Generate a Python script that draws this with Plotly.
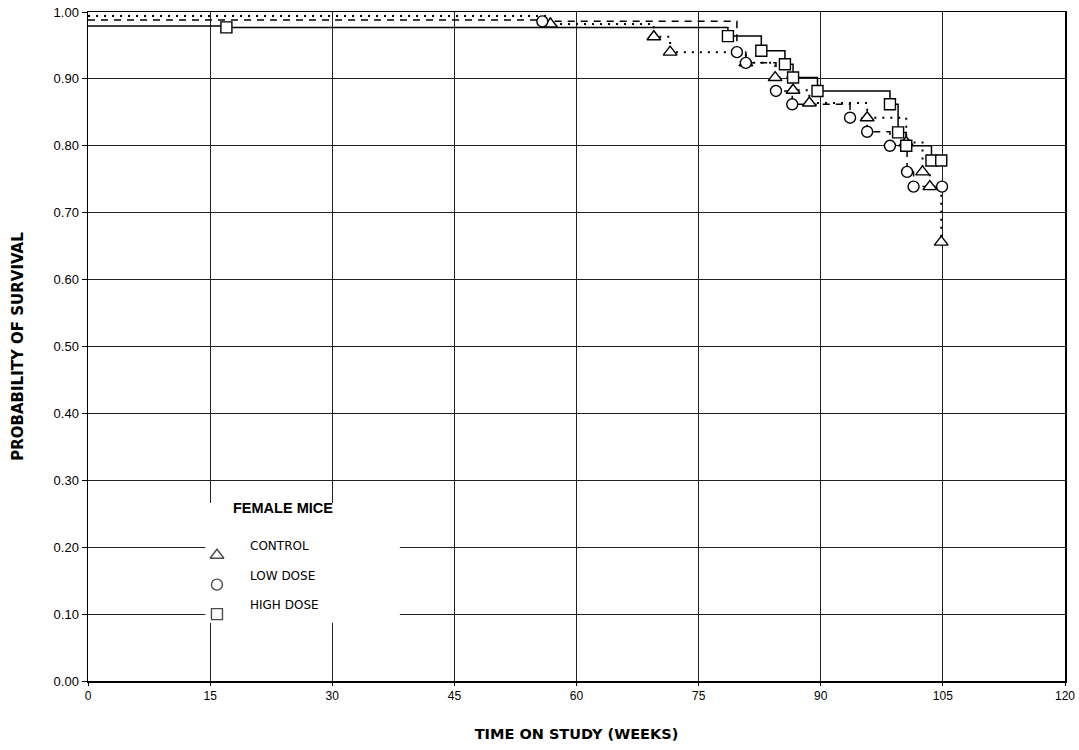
import plotly.graph_objects as go

# ---- data (weeks, probability of survival) ----
weeks_control = [0, 56.8, 69.5, 71.5, 80.8, 84.4, 86.6, 88.6, 95.7, 100.5, 102.5, 103.4, 104.8]
surv_control = [0.994, 0.982, 0.963, 0.940, 0.924, 0.902, 0.883, 0.864, 0.842, 0.805, 0.761, 0.739, 0.656]

weeks_low = [0, 55.8, 79.7, 80.8, 84.5, 86.5, 93.6, 95.7, 98.5, 100.6, 101.4, 104.9]
surv_low = [0.988, 0.986, 0.940, 0.924, 0.882, 0.862, 0.842, 0.821, 0.800, 0.761, 0.739, 0.739]

weeks_high = [0, 17.0, 78.6, 82.7, 85.6, 86.6, 89.6, 98.5, 99.5, 100.5, 103.6, 104.8]
surv_high = [0.979, 0.977, 0.964, 0.942, 0.922, 0.902, 0.882, 0.862, 0.820, 0.800, 0.778, 0.778]

x_ticks = [0, 15, 30, 45, 60, 75, 90, 105, 120]
y_ticks = [0.0, 0.1, 0.2, 0.3, 0.4, 0.5, 0.6, 0.7, 0.8, 0.9, 1.0]

legend_title = "FEMALE MICE"
legend_labels = ["CONTROL", "LOW DOSE", "HIGH DOSE"]

FONT = "Liberation Sans, Arial, sans-serif"
WIDE = "DejaVu Sans, Verdana, sans-serif"

groups = [
    (weeks_control, surv_control, dict(color="black", width=2, dash="2px,6px"), "triangle-up", 12),
    (weeks_low, surv_low, dict(color="black", width=1.5, dash="7px,6px"), "circle", 11),
    (weeks_high, surv_high, dict(color="black", width=1.5), "square", 11),
]

fig = go.Figure()

for wk, sv, ln, sym, sz in groups:
    fig.add_trace(go.Scatter(x=wk, y=sv, mode="lines", line=dict(shape="hv", **ln),
                             showlegend=False, hoverinfo="skip"))
for wk, sv, ln, sym, sz in groups:
    fig.add_trace(go.Scatter(x=wk[1:], y=sv[1:], mode="markers",
                             marker=dict(symbol=sym, size=sz, color="white",
                                         line=dict(color="black", width=1.4)),
                             showlegend=False))

# legend symbols on an overlay axis in layout (0..1) units
leg_x = 0.132
leg_y = [0.188, 0.144, 0.100]
fig.add_trace(go.Scatter(x=[leg_x] * 3, y=leg_y, mode="markers", xaxis="x2", yaxis="y2",
                         marker=dict(symbol=[g[3] for g in groups], size=[12, 11, 11], color="white",
                                     line=dict(color="black", width=1.4)),
                         showlegend=False, hoverinfo="skip"))

annotations = [dict(x=0.2, y=0.244, xref="paper", yref="paper", text="<b>" + legend_title + "</b>",
                    showarrow=False, font=dict(size=14.5, color="black", family=FONT), xanchor="center")]
for lab, yy in zip(legend_labels, leg_y):
    annotations.append(dict(x=0.164, y=yy, xref="paper", yref="paper", text=lab, showarrow=False,
                            font=dict(size=12, color="black", family=WIDE), xanchor="left"))

fig.update_layout(
    width=1079, height=750,
    margin=dict(l=88, r=14, t=12, b=69),
    paper_bgcolor="white", plot_bgcolor="white",
    font=dict(family=FONT, color="black"),
    xaxis=dict(range=[0, 120], tickvals=x_ticks, ticktext=[str(v) for v in x_ticks],
               showgrid=True, gridcolor="#222", gridwidth=1, zeroline=False,
               showline=True, linecolor="black", linewidth=1.5, mirror=True,
               ticks="outside", ticklen=3, tickcolor="black", automargin=False,
               ticklabeloverflow="allow",
               tickfont=dict(size=12, family=FONT),
               title=dict(text="<b>TIME ON STUDY (WEEKS)</b>", font=dict(size=14.5, family=WIDE), standoff=27)),
    yaxis=dict(range=[0, 1], tickvals=y_ticks, tickformat=".2f",
               showgrid=True, gridcolor="#222", gridwidth=1, zeroline=False,
               showline=True, linecolor="black", linewidth=1.5, mirror=True,
               ticks="outside", ticklen=5, tickcolor="black", automargin=False,
               ticklabeloverflow="allow",
               tickfont=dict(size=13, family=FONT),
               title=dict(text="<b>PROBABILITY OF SURVIVAL</b>", font=dict(size=15, family=WIDE), standoff=26)),
    xaxis2=dict(range=[0, 1], overlaying="x", visible=False, domain=[0, 1]),
    yaxis2=dict(range=[0, 1], overlaying="y", visible=False),
    shapes=[dict(type="rect", xref="x", yref="y", x0=14.4, x1=38.3, y0=0.087, y1=0.266,
                 fillcolor="white", line=dict(width=0), layer="between")],
    annotations=annotations,
)

# remove the page's default 8px body margin so the figure sits at the window's top-left corner
fig.write_html("out.html", config={"displayModeBar": False, "staticPlot": True},
               post_script="document.body.style.margin='0';document.body.style.overflow='hidden';")
